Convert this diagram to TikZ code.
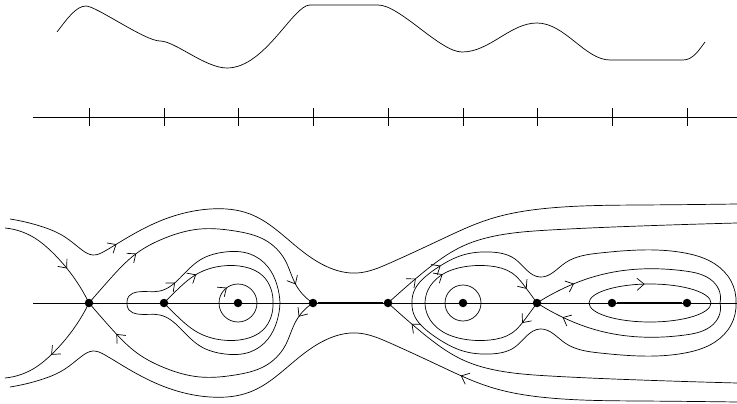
\documentclass[tikz,border=0pt]{standalone}
\usetikzlibrary{arrows.meta}
\usetikzlibrary{decorations.markings}
\usetikzlibrary{hobby}
\tikzset{
  fixpt/.style = {circle, fill, inner sep=0pt, minimum size=8.5pt},
  flowhead/.tip = {Straight Barb[length=7pt, width=12pt]},
  fwd/.style = {postaction={decorate, decoration={markings, mark=at position #1 with {\arrow{flowhead}}}}},
  bwd/.style = {postaction={decorate, decoration={markings, mark=at position #1 with {\arrowreversed{flowhead}}}}},
  outer orbit/.style = {insert path={(10,84) .. (40,77) .. (65,66) .. (82,53) .. (93,48) .. (105,52) .. (125,64) .. (160,82) .. (210,94) .. (250,89) .. (297,56) .. (330,35) .. (357,30) .. (390,40) .. (440,63) .. (490,84) .. (550,95) .. (640,98) .. (737,99)}},
  left sep/.style = {insert path={(5,75) .. (33,66) .. (52,51) .. (89,0)}},
  hetero orbit/.style = {insert path={(89,0) .. (110,24) .. (137,50) .. (165,65) .. (200,74) .. (235,72) .. (265,63) .. (285,43) .. (296,18) .. (313,0)}},
  bulb orbit/.style = {insert path={(127,0) .. (129,7) .. (137,11) .. (160,12) .. (180,25) .. (200,43) .. (225,51) .. (250,49) .. (268,36) .. (277,18) .. (280,0)}},
  cusp orbit/.style = {insert path={(164,0) .. (177,13) .. (197,29) .. (222,37) .. (245,36) .. (263,27) .. (271,14) .. (273,0)}},
  right sep/.style = {insert path={(388,0) .. (406,16) .. (430,36) .. (463,57) .. (500,68) .. (550,73) .. (640,77) .. (737,80)}},
  dumbbell orbit/.style = {insert path={(412,0) .. (415,14) .. (425,26) .. (440,37) .. (463,48) .. (490,51) .. (515,44) .. (540,26) .. (565,40) .. (600,50) .. (640,53) .. (685,50) .. (715,39) .. (731,22) .. (736,0)}},
  left loop/.style = {insert path={(425,0) .. (428,13) .. (440,27) .. (463,36) .. (490,37) .. (512,30) .. (526,15) .. (537,0)}},
  right loop/.style = {insert path={(537,0) .. (560,13) .. (600,28) .. (640,34) .. (685,32) .. (710,24) .. (719,13) .. (720,0)}}
}

\begin{document}
\begin{tikzpicture}[x=1pt, y=-1pt, line width=0.7pt]
  \useasboundingbox (0,0) rectangle (737,404);

  % potential
  \draw (57,32) .. controls (67,19) and (76,6) .. (86,6)
    .. controls (96,6) and (145,41) .. (160,41)
    .. controls (175,41) and (205,68) .. (227,68)
    .. controls (265,68) and (293,5) .. (310,5)
    -- (378,5)
    .. controls (400,5) and (440,52) .. (462,52)
    .. controls (490,52) and (510,23) .. (537,23)
    .. controls (565,23) and (585,60) .. (610,60)
    -- (683,60)
    .. controls (693,60) and (699,50) .. (705,42);

  \draw (33,117) -- (737,117);
  \foreach \x in {89,164,238,313,388,463,537,612,687}
    \draw[shift={(\x,117)}] (0,-9) -- (0,9);

  % phase plane, upper half
  \begin{scope}[shift={(0,303)}, yscale=-1, use Hobby shortcut]
    \draw[fwd=0.152, outer orbit];
    \draw[fwd=0.65, left sep];
    \draw[fwd=0.24, fwd=0.91, hetero orbit];
    \draw[fwd=0.28, bulb orbit];
    \draw[fwd=0.30, cusp orbit];
    \draw[fwd=0.10, right sep];
    \draw[fwd=0.127, dumbbell orbit];
    \draw[fwd=0.24, fwd=0.88, left loop];
    \draw[fwd=0.20, right loop];
    \draw[bwd=0.35] (238,0) circle (19);
    \draw (463,0) circle (18);
    \draw[bwd=0.27] (650,0) ellipse (61 and 19);
  \end{scope}

  % lower half
  \begin{scope}[shift={(0,303)}, use Hobby shortcut]
    \draw[bwd=0.64, outer orbit];
    \draw[bwd=0.45, left sep];
    \draw[bwd=0.145, bwd=0.93, hetero orbit];
    \draw[bulb orbit];
    \draw[cusp orbit];
    \draw[bwd=0.085, right sep];
    \draw[dumbbell orbit];
    \draw[bwd=0.83, left loop];
    \draw[bwd=0.14, right loop];
  \end{scope}

  \draw (33,303) -- (737,303);
  \foreach \x [count=\i] in {89,164,238,313,388,463,537,612,687}
    \node[fixpt] (p\i) at (\x,303) {};
  \draw[line width=2.2pt] (p4) -- (p5);
  \draw[line width=2.2pt] (p8) -- (p9);
\end{tikzpicture}
\end{document}
